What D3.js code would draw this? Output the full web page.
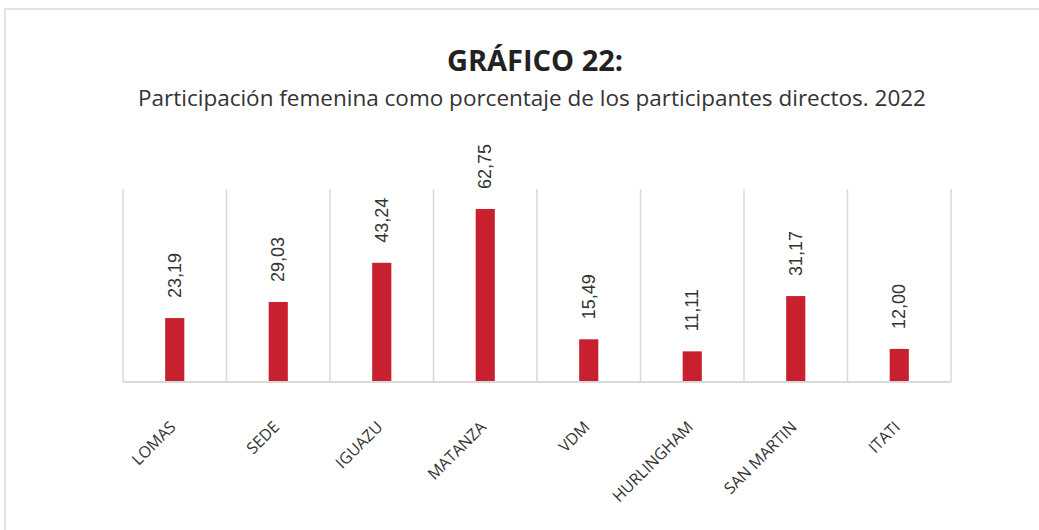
<!DOCTYPE html>
<html>
<head>
<meta charset="utf-8">
<script src="https://cdn.jsdelivr.net/npm/d3@7"></script>
<style>
  body { margin: 0; background: #fff; }
</style>
</head>
<body>
<div id="vis"></div>
<script>
const FRAME_WIDTH = 1039;
const FRAME_HEIGHT = 530;
const MARGINS = {left: 123, right: 88, top: 189, bottom: 148};
const VIS_WIDTH = FRAME_WIDTH - MARGINS.left - MARGINS.right;
const VIS_HEIGHT = FRAME_HEIGHT - MARGINS.top - MARGINS.bottom;

// data
const sedes = ["LOMAS", "SEDE", "IGUAZU", "MATANZA", "VDM", "HURLINGHAM", "SAN MARTIN", "ITATI"];
const participacion = [23.19, 29.03, 43.24, 62.75, 15.49, 11.11, 31.17, 12.00];
const titulo = "GRÁFICO 22:";
const subtitulo = "Participación femenina como porcentaje de los participantes directos. 2022";

const data = sedes.map((s, i) => ({sede: s, valor: participacion[i]}));

const svg = d3.select("#vis")
  .append("svg")
    .attr("width", FRAME_WIDTH)
    .attr("height", FRAME_HEIGHT);

// card border (top and left visible)
svg.append("rect")
  .attr("x", 5).attr("y", 9)
  .attr("width", 1200).attr("height", 700)
  .attr("fill", "none")
  .attr("stroke", "#e3e3e3")
  .attr("stroke-width", 2);

svg.append("text")
  .attr("x", 535).attr("y", 71)
  .attr("text-anchor", "middle")
  .attr("font-family", "Open Sans, sans-serif")
  .attr("font-weight", 700)
  .attr("font-size", 29)
  .attr("fill", "#222")
  .text(titulo);

svg.append("text")
  .attr("x", 532).attr("y", 106)
  .attr("text-anchor", "middle")
  .attr("font-family", "Open Sans, sans-serif")
  .attr("font-size", 22.5)
  .attr("fill", "#333")
  .text(subtitulo);

const X_SCALE = d3.scaleBand()
  .domain(sedes)
  .range([0, VIS_WIDTH])
  .paddingInner(0.815)
  .paddingOuter(0.4075);

const BAND = d3.scaleBand().domain(sedes).range([0, VIS_WIDTH]);

const Y_SCALE = d3.scaleLinear()
  .domain([0, 70])
  .range([VIS_HEIGHT, 0]);

const g = svg.append("g")
  .attr("transform", "translate(" + MARGINS.left + "," + MARGINS.top + ")");

// vertical gridlines at category boundaries
const bounds = sedes.map(s => BAND(s)).concat([VIS_WIDTH]);
g.selectAll(".grid")
  .data(bounds)
  .enter()
  .append("line")
    .attr("x1", d => d).attr("x2", d => d)
    .attr("y1", 0).attr("y2", VIS_HEIGHT)
    .attr("stroke", "#d9d9d9")
    .attr("stroke-width", 1.5);

// bars
g.selectAll(".bar")
  .data(data)
  .enter()
  .append("rect")
    .attr("x", d => X_SCALE(d.sede))
    .attr("y", d => Y_SCALE(d.valor))
    .attr("width", X_SCALE.bandwidth())
    .attr("height", d => VIS_HEIGHT - Y_SCALE(d.valor))
    .attr("fill", "#c8202f");

// baseline
g.append("line")
  .attr("x1", 0).attr("x2", VIS_WIDTH)
  .attr("y1", VIS_HEIGHT).attr("y2", VIS_HEIGHT)
  .attr("stroke", "#d9d9d9")
  .attr("stroke-width", 2);

// value labels, rotated
const fmt = v => v.toFixed(2).replace(".", ",");
g.selectAll(".val")
  .data(data)
  .enter()
  .append("text")
    .attr("transform", d => "translate(" + (BAND(d.sede) + BAND.bandwidth() / 2 + 6) + "," + (Y_SCALE(d.valor) - 20) + ") rotate(-90)")
    .attr("font-family", "Liberation Sans, Arial, sans-serif")
    .attr("font-size", 18)
    .attr("fill", "#333")
    .text(d => fmt(d.valor));

// category labels, rotated -45
g.selectAll(".cat")
  .data(sedes)
  .enter()
  .append("text")
    .attr("transform", d => "translate(" + (BAND(d) + BAND.bandwidth() / 2 + 2) + "," + (VIS_HEIGHT + 46) + ") rotate(-45)")
    .attr("text-anchor", "end")
    .attr("font-family", "Open Sans, sans-serif")
    .attr("font-size", 16)
    .attr("fill", "#333")
    .text(d => d);
</script>
</body>
</html>
